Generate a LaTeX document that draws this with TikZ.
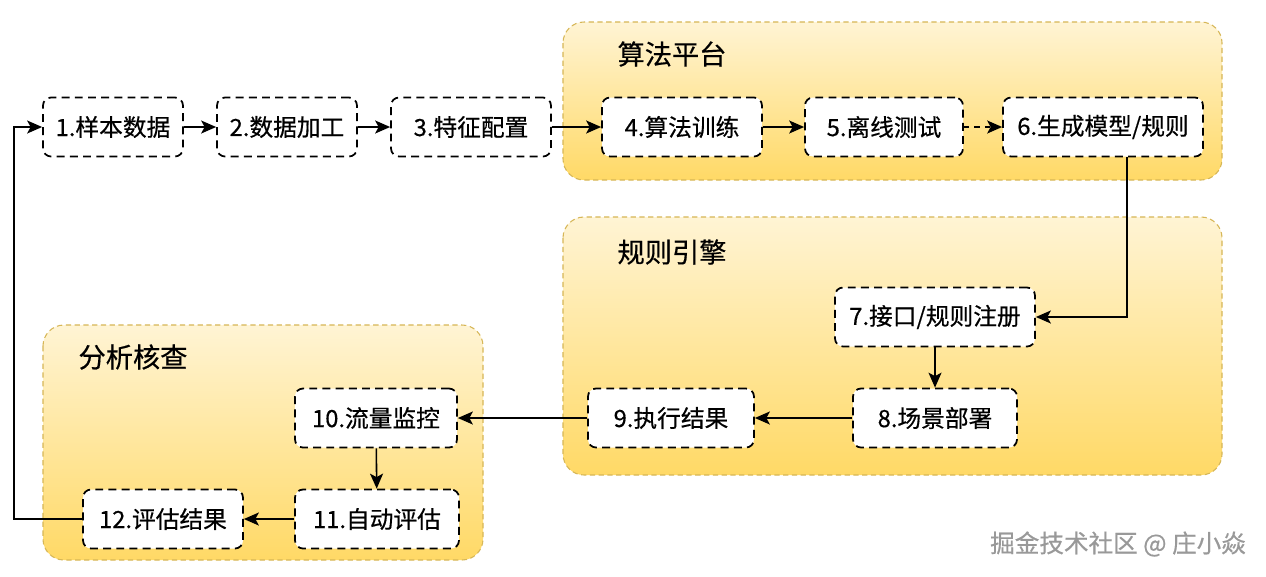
\documentclass[tikz,border=0pt]{standalone}
\usepackage{fontspec}
\setmainfont{Noto Sans CJK SC}[FakeBold=0.5]
\usetikzlibrary{arrows.meta}
\definecolor{grpline}{HTML}{D6B656}
\definecolor{grptop}{HTML}{FFF4D4}
\definecolor{grpbot}{HTML}{FFD966}
\tikzset{
  step box/.style={draw, dashed, dash pattern=on 4.5pt off 3pt, line width=1pt, rounded corners=0.16cm,
    fill=white, minimum height=1.18cm, inner sep=0pt, font=\fontsize{13.5}{15}\selectfont},
  group/.style={draw=grpline, dashed, dash pattern=on 3pt off 2pt, line width=0.6pt, rounded corners=0.42cm,
    top color=grptop, bottom color=grpbot},
  title/.style={font=\fontsize{15.5}{18}\selectfont},
  arr/.style={-{Stealth[length=0.3cm,width=0.26cm,inset=0.07cm]}, line width=0.9pt}
}
\begin{document}
\begin{tikzpicture}[x=0.02cm,y=-0.02cm]
        \useasboundingbox[fill=white] (0,0) rectangle (1266,576);
        % groups
        \path[group] (563,22) rectangle (1222,180);
        \path[group] (563,217) rectangle (1222,475);
        \path[group] (43,325) rectangle (483,560);
        \node[title] (algo) at (672,54) {算法平台};
        \node[title] (rule) at (672,252) {规则引擎};
        \node[title] (check) at (133,357) {分析核查};
        % steps
        \node[step box, minimum width=2.80cm] (n1) at (113,127) {1.样本数据};
        \node[step box, minimum width=2.80cm] (n2) at (287,127) {2.数据加工};
        \node[step box, minimum width=3.20cm] (n3) at (471,127) {3.特征配置};
        \node[step box, minimum width=3.20cm] (n4) at (682,127) {4.算法训练};
        \node[step box, minimum width=3.16cm] (n5) at (884,127) {5.离线测试};
        \node[step box, minimum width=4.00cm] (n6) at (1103,127) {6.生成模型/规则};
        \node[step box, minimum width=4.00cm] (n7) at (935,317) {7.接口/规则注册};
        \node[step box, minimum width=3.28cm] (n8) at (935,418) {8.场景部署};
        \node[step box, minimum width=3.32cm] (n9) at (671,418) {9.执行结果};
        \node[step box, minimum width=3.24cm] (n10) at (376,418) {10.流量监控};
        \node[step box, minimum width=3.28cm] (n11) at (377,519) {11.自动评估};
        \node[step box, minimum width=3.20cm] (n12) at (163,519) {12.评估结果};
        % flow
        \draw[arr] (n1) -- (n2);
        \draw[arr] (n2) -- (n3);
        \draw[arr] (n3) -- (n4);
        \draw[arr] (n4) -- (n5);
        \draw[arr, dashed] (n5) -- (n6);
        \draw[arr] ([xshift=0.48cm]n6.south) |- (n7.east);
        \draw[arr] (n7) -- (n8);
        \draw[arr] (n8) -- (n9);
        \draw[arr] (n9) -- (n10);
        \draw[arr] (n10) -- (n11);
        \draw[arr] (n11) -- (n12);
        \draw[arr] (n12.west) -- ++(-68,0) |- (n1.west);
        % watermark
        \node[text=black!40, font=\fontsize{14}{16}\selectfont] (mark) at (1118,544) {掘金技术社区 @ 庄小焱};
    \end{tikzpicture}
\end{document}
